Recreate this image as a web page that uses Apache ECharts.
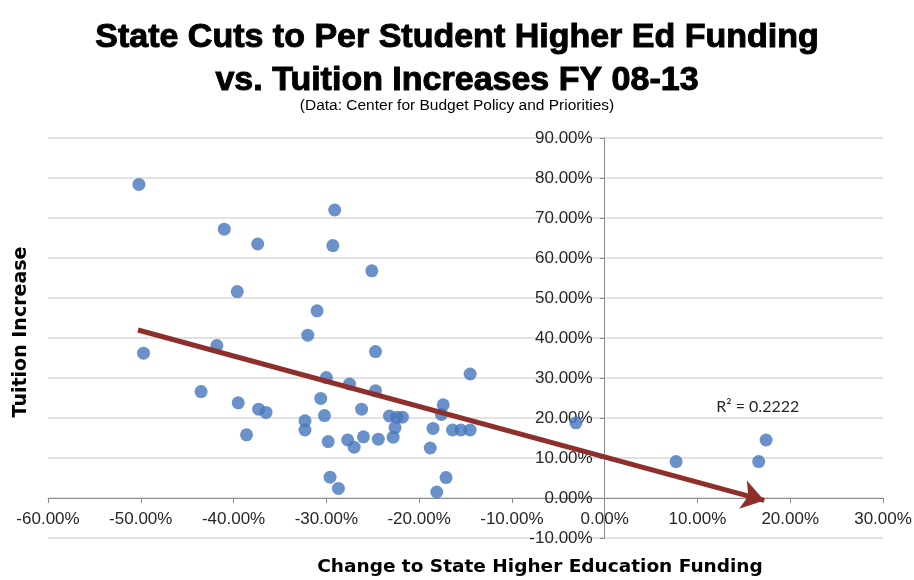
<!DOCTYPE html>
<html>
<head>
<meta charset="utf-8">
<script src="https://cdn.jsdelivr.net/npm/echarts@6/dist/echarts.min.js"></script>
<style>
  html, body { margin: 0; padding: 0; background: #ffffff; }
  #chart { width: 914px; height: 580px; }
</style>
</head>
<body>
<div id="chart"></div>
<script>
// Change to state higher-education funding per student (%), FY 08-13
const fundingChange = [
  -50.2, -41.0, -37.4, -39.6, -49.7, -41.8, -43.5, -39.5, -37.3, -36.5,
  -38.6, -29.1, -29.3, -25.1, -31.0, -32.0, -24.7, -30.0, -27.5, -24.7,
  -14.5, -30.6, -26.2, -23.2, -22.4, -21.8, -17.4, -17.6, -32.3, -32.3,
  -30.2, -22.6, -22.8, -18.5, -16.4, -15.5, -14.5, -29.8, -27.7, -27.0,
  -26.0, -24.4, -18.8, -29.6, -28.7, -17.1, -18.1, -3.1, 7.7, 16.6, 17.4
];
// Tuition increase (%), same order
const tuitionIncrease = [
  78.4, 67.2, 63.5, 51.6, 36.2, 38.1, 26.6, 23.8, 22.2, 21.4,
  15.8, 72.0, 63.1, 56.8, 46.8, 40.7, 36.6, 30.1, 28.5, 26.8,
  31.0, 24.9, 22.2, 20.5, 20.2, 20.2, 23.3, 20.9, 19.3, 17.0,
  20.6, 17.6, 15.2, 17.4, 17.0, 17.0, 17.0, 14.1, 14.5, 12.7,
  15.3, 14.7, 12.5, 5.2, 2.4, 5.1, 1.5, 18.8, 9.1, 9.1, 14.5
];
// Linear trend line drawn as an arrow (start, end) in data units
const trendStart = [-50.3, 42.0];
const trendEnd = [17.2, -0.6];
const rSquaredText = 'R² = 0.2222';
const rSquaredAt = [16.5, 22.7];

const xRange = [-60, 30];
const yRange = [-10, 90];
const tickStep = 10;

const titleLines = ['State Cuts to Per Student Higher Ed Funding', 'vs. Tuition Increases FY 08-13'];
const subtitleText = '(Data: Center for Budget Policy and Priorities)';
const xAxisTitle = 'Change to State Higher Education Funding';
const yAxisTitle = 'Tuition Increase';

const W = 914, H = 580;
const gridBox = { left: 48, right: 31, top: 138, bottom: 42 };
const plotW = W - gridBox.left - gridBox.right;
const plotH = H - gridBox.top - gridBox.bottom;
// axes cross at zero: shift the axes into the plot by the scale position of 0
const yAxisShift = -((0 - xRange[0]) / (xRange[1] - xRange[0])) * plotW;
const xAxisShift = -((0 - yRange[0]) / (yRange[1] - yRange[0])) * plotH;

const points = fundingChange.map((x, i) => [x, tuitionIncrease[i]]);
const pct = v => v.toFixed(2) + '%';
const labelFont = '"Liberation Sans", Arial, sans-serif';

const chart = echarts.init(document.getElementById('chart'), null, { renderer: 'canvas' });
chart.setOption({
  animation: false,
  backgroundColor: '#ffffff',
  title: [
    {
      text: titleLines.join('\n'),
      left: 'center',
      top: 11,
      textStyle: {
        fontFamily: labelFont,
        fontWeight: 'bold',
        fontSize: 34,
        lineHeight: 43,
        color: '#000000',
        textBorderColor: '#000000',
        textBorderWidth: 1
      }
    },
    {
      text: subtitleText,
      left: 'center',
      top: 93,
      textStyle: {
        fontFamily: labelFont,
        fontWeight: 'normal',
        fontSize: 15.5,
        color: '#000000'
      }
    }
  ],
  grid: Object.assign({ containLabel: false, outerBoundsMode: 'none' }, gridBox),
  xAxis: {
    type: 'value',
    position: 'bottom',
    offset: xAxisShift,
    min: xRange[0], max: xRange[1], interval: tickStep,
    axisLine: { show: true, onZero: false, lineStyle: { color: '#8c8c8c', width: 1 } },
    axisTick: { show: true, length: 5, lineStyle: { color: '#8c8c8c' } },
    axisLabel: { formatter: pct, margin: 13, fontFamily: labelFont, fontSize: 17, color: '#262626' },
    splitLine: { show: false }
  },
  yAxis: {
    type: 'value',
    position: 'left',
    offset: yAxisShift,
    min: yRange[0], max: yRange[1], interval: tickStep,
    axisLine: { show: true, onZero: false, lineStyle: { color: '#8c8c8c', width: 1 } },
    axisTick: { show: true, length: 5, lineStyle: { color: '#8c8c8c' } },
    axisLabel: { formatter: pct, margin: 12, fontFamily: labelFont, fontSize: 17, color: '#262626' },
    splitLine: { show: true, lineStyle: { color: '#d9d9d9', width: 1.5 } }
  },
  series: [
    {
      type: 'scatter',
      data: points,
      symbol: 'circle',
      symbolSize: 13,
      itemStyle: { color: '#4576BB' },
      emphasis: { disabled: true },
      silent: true,
      markLine: {
        silent: true,
        symbol: ['none', 'arrow'],
        symbolSize: 22,
        label: { show: false },
        lineStyle: { color: '#8E2F2B', width: 5, type: 'solid' },
        emphasis: { disabled: true },
        data: [[{ coord: trendStart }, { coord: trendEnd }]]
      },
      markPoint: {
        silent: true,
        symbol: 'circle',
        symbolSize: 0,
        label: {
          show: true,
          position: 'inside',
          formatter: rSquaredText,
          fontFamily: 'Lato, "Open Sans", sans-serif',
          fontSize: 16,
          color: '#262626'
        },
        data: [{ coord: rSquaredAt }]
      }
    }
  ],
  graphic: [
    {
      type: 'text',
      x: 21, y: 332,
      rotation: Math.PI / 2,
      style: {
        text: yAxisTitle,
        fontFamily: '"DejaVu Sans", sans-serif',
        fontWeight: 'bold',
        fontSize: 19,
        fill: '#000000',
        align: 'center',
        verticalAlign: 'middle'
      }
    },
    {
      type: 'text',
      x: 540, y: 567,
      style: {
        text: xAxisTitle,
        fontFamily: '"DejaVu Sans", sans-serif',
        fontWeight: 'bold',
        fontSize: 18.5,
        fill: '#000000',
        align: 'center',
        verticalAlign: 'middle'
      }
    }
  ]
});
</script>
</body>
</html>
